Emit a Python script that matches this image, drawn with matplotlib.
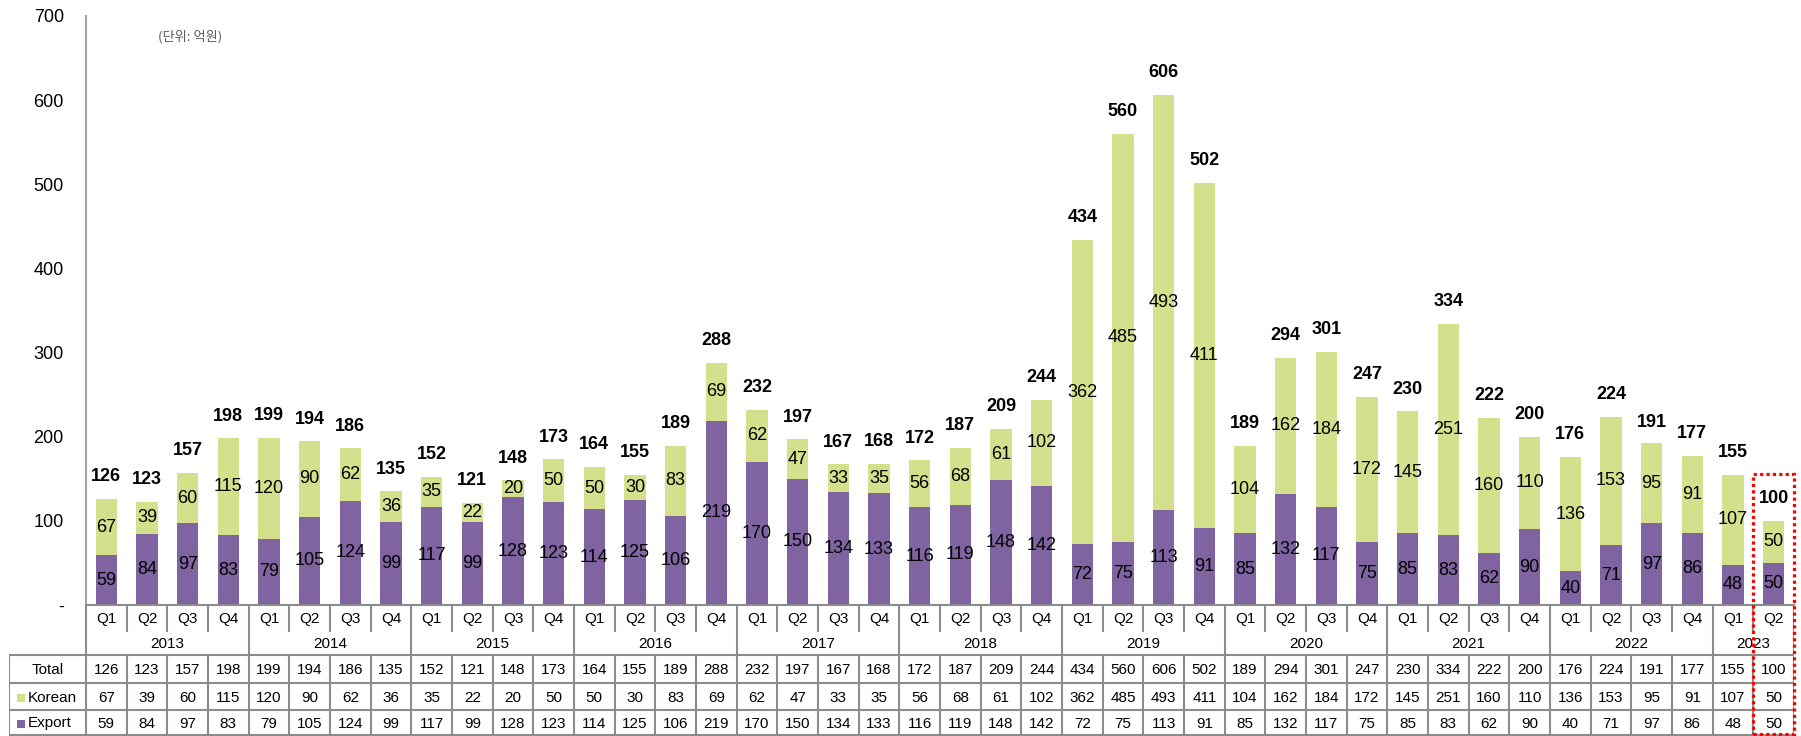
import numpy as np
import matplotlib
matplotlib.use("Agg")
import matplotlib.pyplot as plt
from matplotlib.patches import Rectangle

plt.rcParams['font.family'] = ['Liberation Sans', 'Noto Sans CJK KR', 'DejaVu Sans']

# data (unit: 100 million KRW)
years = ['2013', '2014', '2015', '2016', '2017', '2018', '2019', '2020', '2021', '2022', '2023']
quarters = ['Q1', 'Q2', 'Q3', 'Q4'] * 10 + ['Q1', 'Q2']
korean = [67, 39, 60, 115, 120, 90, 62, 36, 35, 22, 20, 50, 50, 30, 83, 69,
          62, 47, 33, 35, 56, 68, 61, 102, 362, 485, 493, 411, 104, 162, 184, 172,
          145, 251, 160, 110, 136, 153, 95, 91, 107, 50]
export = [59, 84, 97, 83, 79, 105, 124, 99, 117, 99, 128, 123, 114, 125, 106, 219,
          170, 150, 134, 133, 116, 119, 148, 142, 72, 75, 113, 91, 85, 132, 117, 75,
          85, 83, 62, 90, 40, 71, 97, 86, 48, 50]
total = [126, 123, 157, 198, 199, 194, 186, 135, 152, 121, 148, 173, 164, 155, 189, 288,
         232, 197, 167, 168, 172, 187, 209, 244, 434, 560, 606, 502, 189, 294, 301, 247,
         230, 334, 222, 200, 176, 224, 191, 177, 155, 100]

PURPLE = '#8064A2'
GREEN = '#D4E18C'
GRID = '#8C8C8C'

W, H = 1801, 736
fig = plt.figure(figsize=(W / 100, H / 100), dpi=100)

# pixel layout
x0, x1 = 86, 1794          # category area
y_top, y_zero = 16, 605    # plot area
tab_left = 9
ax = fig.add_axes([x0 / W, (H - y_zero) / H, (x1 - x0) / W, (y_zero - y_top) / H])

n = len(total)
x = np.arange(n)
b1 = ax.bar(x, export, width=0.52, color=PURPLE, zorder=2)
b2 = ax.bar(x, korean, width=0.52, bottom=export, color=GREEN, zorder=2)
ax.bar_label(b1, label_type='center', fontsize=13, color='black')
ax.bar_label(b2, label_type='center', fontsize=13, color='black')
for xi, t in zip(x, total):
    ax.annotate(str(t), (xi, t), xytext=(0, 16), textcoords='offset points',
                ha='center', va='center', fontsize=13, fontweight='bold')

ax.set_xlim(-0.5, n - 0.5)
ax.set_ylim(0, 700)
ax.set_xticks([])
ax.set_yticks(range(0, 701, 100))
ax.set_yticklabels(['-'] + [str(v) for v in range(100, 701, 100)], fontsize=13)
ax.tick_params(axis='y', length=0, pad=16)
for s in ['top', 'right']:
    ax.spines[s].set_visible(False)
ax.spines['left'].set_color('#A6A6A6')
ax.spines['left'].set_linewidth(1.5)
ax.spines['bottom'].set_color(GRID)
ax.spines['bottom'].set_linewidth(1.5)

fig.text(158 / W, 1 - 37 / H, '(단위: 억원)', fontsize=9.5, color='#595959',
         family=['Noto Sans CJK KR'], va='center', ha='left')

# table below the chart, x aligned with the categories
cat_w = (x1 - x0) / n
ext = (x0 - tab_left) / cat_w
tax = fig.add_axes([tab_left / W, 0, (x1 - tab_left) / W, (H - y_zero) / H])
tax.set_xlim(-0.5 - ext, n - 0.5)
tax.set_ylim(H - y_zero, 0)
tax.axis('off')

q_bot, yr_bot = 27, 50
rows_y = [50, 78, 105, 130]
lk = dict(color=GRID, lw=1.5, solid_capstyle='butt')

for i in range(n + 1):
    b = i - 0.5
    if i == 0 or i % 4 == 0 or i == n:
        tax.plot([b, b], [0, yr_bot], **lk)
    else:
        tax.plot([b, b], [0, q_bot], **lk)
    tax.plot([b, b], [rows_y[0], rows_y[-1]], **lk)
left = -0.5 - ext
tax.plot([left, left], [rows_y[0], rows_y[-1]], **lk)
for ry in rows_y:
    tax.plot([left, n - 0.5], [ry, ry], **lk)

for xi, q in zip(x, quarters):
    tax.text(xi, q_bot / 2 + 1, q, ha='center', va='center', fontsize=11)
for k, yr in enumerate(years):
    span = x[k * 4:k * 4 + 4]
    tax.text(span.mean(), (q_bot + yr_bot) / 2 + 1, yr, ha='center', va='center', fontsize=11)

row_names = ['Total', 'Korean', 'Export']
row_vals = [total, korean, export]
row_cols = [None, GREEN, PURPLE]
hc = left + ext / 2
for r, (name, vals, c) in enumerate(zip(row_names, row_vals, row_cols)):
    yc = (rows_y[r] + rows_y[r + 1]) / 2 + 1
    if c is None:
        tax.text(hc, yc, name, ha='center', va='center', fontsize=11)
    else:
        tax.text(left + 0.45, yc, name, ha='left', va='center', fontsize=11)
        tax.add_patch(Rectangle((left + 0.2, yc - 4), 0.2, 8, color=c, lw=0))
    for xi, v in zip(x, vals):
        tax.text(xi, yc, str(v), ha='center', va='center', fontsize=11)

# red dotted highlight around the latest quarter
scale = 700 / (y_zero - y_top)  # data units per pixel
fig.add_artist(Rectangle((n - 1.5, -(734 - y_zero) * scale), 1.0,
                         (734 - 474) * scale,
                         transform=ax.transData, fill=False, edgecolor='#FF0000',
                         lw=2.3, linestyle=(0, (1, 1)), clip_on=False, zorder=5))

fig.savefig('out.png', dpi=100)
